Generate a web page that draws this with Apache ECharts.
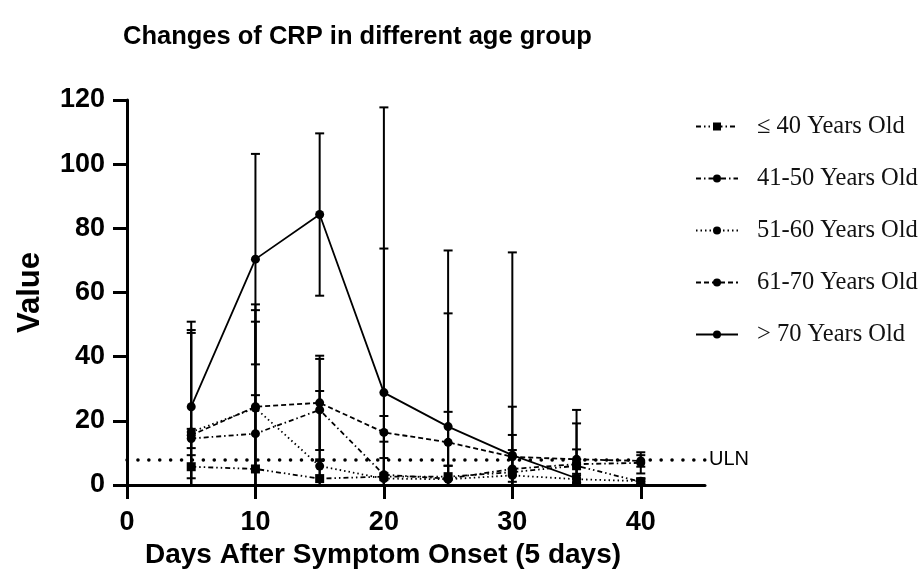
<!DOCTYPE html>
<html lang="en">
<head>
  <meta charset="UTF-8">
  <title>Changes of CRP in different age group</title>
  <style>
    html, body { margin: 0; padding: 0; background: #fff; }
    #chart { width: 924px; height: 587px; }
  </style>
</head>
<body>
  <div id="chart"></div>
  <script src="https://cdn.jsdelivr.net/npm/echarts@6/dist/echarts.min.js"></script>
  <script>
    // days after symptom onset
    var days = [5, 10, 15, 20, 25, 30, 35, 40];
    var groups = ['\u2264 40 Years Old', '41-50 Years Old', '51-60 Years Old', '61-70 Years Old', '> 70 Years Old'];

    // means
    var meanLe40 = [5.7, 5.0, 2.0, 2.6, 2.6, 4.0, 6.0, 1.0];
    var mean41to50 = [14.5, 16.0, 23.4, 3.2, 2.0, 5.0, 6.5, 6.9];
    var mean51to60 = [16.5, 24.0, 5.9, 2.0, 1.8, 3.0, 1.8, 1.2];
    var mean61to70 = [15.5, 24.4, 25.6, 16.4, 13.3, 8.8, 8.0, 7.5];
    var meanGt70 = [24.4, 70.4, 84.3, 28.8, 18.2, 9.3, 2.1, null];

    // top of the error bars (mean + SD)
    var upperLe40 = [9.3, 28.0, 8.0, 8.4, 6.0, 10.9, 11.1, 2.0];
    var upper41to50 = [17.5, 50.9, 39.3, 21.5, 22.8, 15.6, 19.2, 10.2];
    var upper51to60 = [47.4, 54.5, 29.3, 13.5, 6.0, 5.0, 3.0, 2.0];
    var upper61to70 = [48.3, 56.3, 40.3, 73.7, 53.5, 24.4, 23.4, 9.3];
    var upperGt70 = [50.9, 103.2, 109.6, 117.7, 73.1, 72.5, 3.5, null];

    var uln = 8;
    var yTicks = [0, 20, 40, 60, 80, 100, 120];
    var xTicks = [0, 10, 20, 30, 40];

    var means = [meanLe40, mean41to50, mean51to60, mean61to70, meanGt70];
    var uppers = [upperLe40, upper41to50, upper51to60, upper61to70, upperGt70];
    var dashes = [[5, 3, 1.5, 3, 1.5, 3], [5, 3, 1.5, 3], [1.5, 3], [5, 3], 'solid'];
    var symbols = ['rect', 'circle', 'circle', 'circle', 'circle'];
    var sans = 'Liberation Sans';

    function errorBar(params, api) {
      var x = api.value(0), m = api.value(1), u = api.value(2);
      var lo = Math.max(0, 2 * m - u);
      var top = api.coord([x, u]);
      var bot = api.coord([x, lo]);
      var hw = 4.5;
      var st = { stroke: '#000', lineWidth: 2 };
      var kids = [
        { type: 'line', shape: { x1: top[0], y1: top[1], x2: bot[0], y2: bot[1] }, style: st },
        { type: 'line', shape: { x1: top[0] - hw, y1: top[1], x2: top[0] + hw, y2: top[1] }, style: st }
      ];
      if (lo > 0) {
        kids.push({ type: 'line', shape: { x1: bot[0] - hw, y1: bot[1], x2: bot[0] + hw, y2: bot[1] }, style: st });
      }
      return { type: 'group', children: kids };
    }

    var series = [];
    groups.forEach(function (name, i) {
      var bars = [];
      var pts = [];
      days.forEach(function (d, j) {
        if (means[i][j] == null) return;
        pts.push([d, means[i][j]]);
        bars.push([d, means[i][j], uppers[i][j]]);
      });
      series.push({
        type: 'custom',
        name: name + ' SD',
        renderItem: errorBar,
        data: bars,
        z: 1,
        silent: true
      });
      series.push({
        type: 'line',
        name: name,
        data: pts,
        symbol: symbols[i],
        symbolSize: 9,
        showAllSymbol: true,
        z: 3,
        lineStyle: { color: '#000', width: 1.8, type: dashes[i] },
        itemStyle: { color: '#000', borderWidth: 0 }
      });
    });

    // ULN reference line
    series[series.length - 1].markLine = {
      silent: true,
      symbol: 'none',
      data: [{ yAxis: uln }],
      lineStyle: { color: '#000', width: 3.5, type: [0.1, 10.8], cap: 'round' },
      label: {
        show: true, position: 'end', formatter: 'ULN', distance: 4,
        fontFamily: sans, fontSize: 20, color: '#000'
      }
    };

    var chart = echarts.init(document.getElementById('chart'));
    chart.setOption({
      animation: false,
      backgroundColor: '#fff',
      title: {
        text: 'Changes of CRP in different age group',
        left: 118, top: 19,
        textStyle: { fontFamily: sans, fontWeight: 'bold', fontSize: 25.5, color: '#000' }
      },
      legend: {
        orient: 'vertical',
        left: 690, top: 109,
        data: groups,
        itemWidth: 42, itemHeight: 10, itemGap: 27,
        textStyle: { fontFamily: 'Liberation Serif', fontSize: 24.5, color: '#111', padding: [0, 0, 0, 14] }
      },
      grid: { left: 127, right: 219, top: 100, bottom: 102, containLabel: false },
      xAxis: {
        type: 'value', min: 0, max: 45, interval: 5,
        name: 'Days After Symptom Onset (5 days)',
        nameLocation: 'middle', nameGap: 52,
        nameTextStyle: { fontFamily: sans, fontWeight: 'bold', fontSize: 28, color: '#000', padding: [0, 66, 0, 0] },
        axisLine: { lineStyle: { color: '#000', width: 3 } },
        axisTick: { show: true, length: 14, lineStyle: { color: '#000', width: 3 }, customValues: xTicks },
        axisLabel: { customValues: xTicks, margin: 24, fontFamily: sans, fontWeight: 'bold', fontSize: 27, color: '#000' },
        splitLine: { show: false }
      },
      yAxis: {
        type: 'value', min: 0, max: 120, interval: 20,
        name: 'Value',
        nameLocation: 'middle', nameGap: 81,
        nameTextStyle: { fontFamily: sans, fontWeight: 'bold', fontSize: 31, color: '#000' },
        axisLine: { show: true, lineStyle: { color: '#000', width: 3 } },
        axisTick: { show: true, length: 14, lineStyle: { color: '#000', width: 3 }, customValues: yTicks },
        axisLabel: { customValues: yTicks, margin: 22, fontFamily: sans, fontWeight: 'bold', fontSize: 27, color: '#000' },
        splitLine: { show: false }
      },
      series: series
    });
  </script>
</body>
</html>
